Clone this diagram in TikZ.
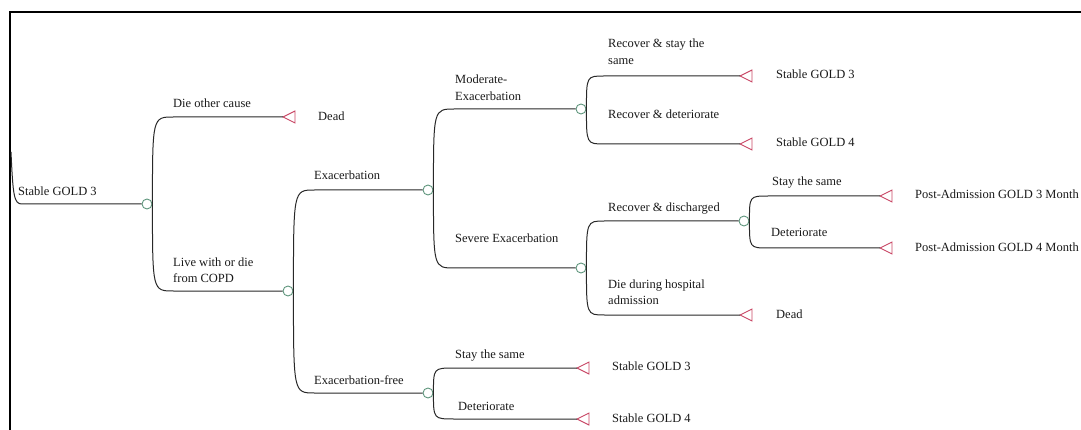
\documentclass[tikz,border=0pt]{standalone}
\usepackage{fontspec}
\setmainfont{Liberation Serif}
\definecolor{chgreen}{RGB}{95,150,125}
\definecolor{trired}{RGB}{200,70,100}
\definecolor{linecol}{RGB}{40,40,40}
\definecolor{txtcol}{RGB}{25,25,25}
\tikzset{
  br/.style={draw=linecol, line width=1pt},
  chance/.style={circle, draw=chgreen, fill=white, inner sep=0pt, minimum size=10pt, line width=0.9pt},
  tri/.style={draw=trired, line width=0.9pt, line join=miter},
  lbl/.style={anchor=base west, inner sep=0pt, text=txtcol, align=left,
              font=\fontsize{12.5}{17}\selectfont},
  frame/.style={draw=black, line width=2pt},
  pics/term/.style={code={\draw[tri] (0,0) -- (12,-6) -- (12,6) -- cycle;}}
}
\begin{document}
\begin{tikzpicture}[x=1pt,y=-1pt]
\useasboundingbox (0,0) rectangle (1081,430);
% frame
\coordinate (fa) at (10,430);
\coordinate (fb) at (10,12);
\coordinate (fc) at (1081,12);
\draw[frame] (fa) -- (fb) -- (fc);

% chance nodes
\node[chance] (c0) at (147,204) {};
\node[chance] (c1) at (288,291) {};
\node[chance] (c2) at (428,190) {};
\node[chance] (c3) at (428,393) {};
\node[chance] (c4) at (581,109) {};
\node[chance] (c5) at (581,268) {};
\node[chance] (c6) at (744,221) {};

% terminal tips
\coordinate (t1) at (283,117);
\coordinate (t2) at (577,368);
\coordinate (t3) at (577,419);
\coordinate (t4) at (740,76);
\coordinate (t5) at (740,144);
\coordinate (t6) at (740,315);
\coordinate (t7) at (880,196);
\coordinate (t8) at (880,248);
\foreach \t in {t1,t2,t3,t4,t5,t6,t7,t8} \pic at (\t) {term};

% root incoming branch
\coordinate (r0) at (11,152);
\draw[br] (r0) .. controls (13,196) and (14,204) .. (22,204) -- (c0);

% branches
\draw[br] (c0.east) .. controls (c0.east |- t1) .. ([xshift=21pt]c0.east |- t1) -- (t1);
\draw[br] (c0.east) .. controls (c0.east |- c1) .. ([xshift=21pt]c0.east |- c1) -- (c1);

\draw[br] (c1.east) .. controls (c1.east |- c2) .. ([xshift=21pt]c1.east |- c2) -- (c2);
\draw[br] (c1.east) .. controls (c1.east |- c3) .. ([xshift=21pt]c1.east |- c3) -- (c3);

\draw[br] (c2.east) .. controls (c2.east |- c4) .. ([xshift=21pt]c2.east |- c4) -- (c4);
\draw[br] (c2.east) .. controls (c2.east |- c5) .. ([xshift=21pt]c2.east |- c5) -- (c5);

\draw[br] (c3.east) .. controls (c3.east |- t2) .. ([xshift=21pt]c3.east |- t2) -- (t2);
\draw[br] (c3.east) .. controls (c3.east |- t3) .. ([xshift=21pt]c3.east |- t3) -- (t3);

\draw[br] (c4.east) .. controls (c4.east |- t4) .. ([xshift=18pt]c4.east |- t4) -- (t4);
\draw[br] (c4.east) .. controls (c4.east |- t5) .. ([xshift=18pt]c4.east |- t5) -- (t5);

\draw[br] (c5.east) .. controls (c5.east |- c6) .. ([xshift=18pt]c5.east |- c6) -- (c6);
\draw[br] (c5.east) .. controls (c5.east |- t6) .. ([xshift=18pt]c5.east |- t6) -- (t6);

\draw[br] (c6.east) .. controls (c6.east |- t7) .. ([xshift=19pt]c6.east |- t7) -- (t7);
\draw[br] (c6.east) .. controls (c6.east |- t8) .. ([xshift=19pt]c6.east |- t8) -- (t8);

% branch labels (base = baseline of last line)
\node[lbl] (l0) at (18,196) {Stable GOLD 3};
\node[lbl] (l1) at (173,108) {Die other cause};
\node[lbl] (l2) at (173,283) {Live with or die\\from COPD};
\node[lbl] (l3) at (314,180) {Exacerbation};
\node[lbl] (l4) at (314,384) {Exacerbation-free};
\node[lbl] (l5) at (455,101) {Moderate-\\Exacerbation};
\node[lbl] (l6) at (455,243) {Severe Exacerbation};
\node[lbl] (l7) at (455,358) {Stay the same};
\node[lbl] (l8) at (458,410) {Deteriorate};
\node[lbl] (l9) at (608,65) {Recover \& stay the\\same};
\node[lbl] (l10) at (608,119) {Recover \& deteriorate};
\node[lbl] (l11) at (608,212) {Recover \& discharged};
\node[lbl] (l12) at (608,305) {Die during hospital\\admission};
\node[lbl] (l13) at (772,186) {Stay the same};
\node[lbl] (l14) at (771,237) {Deteriorate};

% outcome labels
\node[lbl] (o1) at (318,121) {Dead};
\node[lbl] (o2) at (612,370) {Stable GOLD 3};
\node[lbl] (o3) at (612,422) {Stable GOLD 4};
\node[lbl] (o4) at (776,79) {Stable GOLD 3};
\node[lbl] (o5) at (776,147) {Stable GOLD 4};
\node[lbl] (o6) at (776,318) {Dead};
\node[lbl] (o7) at (915,199) {Post-Admission GOLD 3 Month};
\node[lbl] (o8) at (915,252) {Post-Admission GOLD 4 Month};
\end{tikzpicture}
\end{document}
